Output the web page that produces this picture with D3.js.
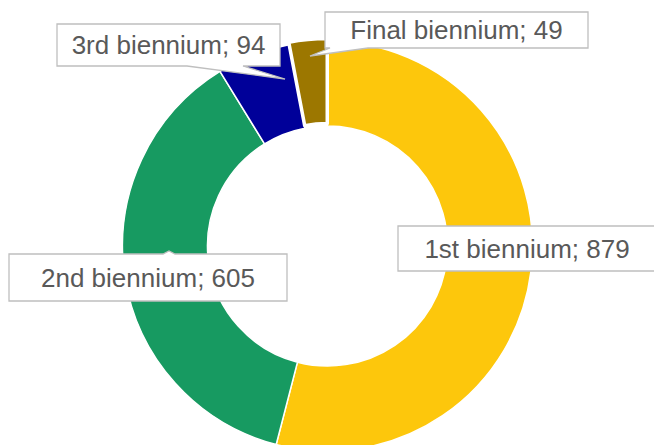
<!DOCTYPE html>
<html>
<head>
<meta charset="utf-8">
<script src="https://cdn.jsdelivr.net/npm/d3@7"></script>
<style>
  html, body { margin: 0; padding: 0; background: #fff; }
  svg { display: block; }
</style>
</head>
<body>
<svg id="chart" width="654" height="445"></svg>
<script>
// ---- data ----
const categories = ["1st biennium", "2nd biennium", "3rd biennium", "Final biennium"];
const values = [879, 605, 94, 49];
const colors = ["#FDC70C", "#179A61", "#000099", "#9C7700"];
const exploded = [false, false, false, true];

// ---- layout ----
const W = 654, H = 445;
const cx = 327.5, cy = 246;
const outerR = 205, innerR = 120;

// label boxes: offsets relative to chart centre, plus pointer spec
const labelLayout = [
  { dx: 70.5,  dy: -20, w: 258, h: 45, ptr: null },
  { dx: -318.5, dy: 8,  w: 278, h: 47, ptr: { side: "top", a: 163, b: 175, tip: [169, 251] } },
  { dx: -270.5, dy: -222, w: 223, h: 42, ptr: { side: "bottom", a: 187, b: 243, tip: [285, 79] } },
  { dx: -2.5,  dy: -234, w: 263, h: 36, ptr: { side: "bottom", a: 330, b: 368, tip: [310, 56] } }
];

const svg = d3.select("#chart");
const g = svg.append("g").attr("transform", `translate(${cx},${cy})`);

const pie = d3.pie().sort(null).value(d => d.value).startAngle(0).endAngle(2 * Math.PI);
const data = categories.map((c, i) => ({ name: c, value: values[i], color: colors[i], exploded: exploded[i] }));
const arcs = pie(data);
const arc = d3.arc().innerRadius(innerR).outerRadius(outerR);

g.selectAll("path.slice")
  .data(arcs)
  .enter().append("path")
  .attr("class", "slice")
  .attr("d", arc)
  .attr("fill", d => d.data.color)
  .attr("stroke", "#fff")
  .attr("stroke-width", d => d.data.exploded ? 3.5 : 1.5)
  .attr("stroke-linejoin", "round")
  .attr("transform", d => {
    if (!d.data.exploded) return null;
    const mid = (d.startAngle + d.endAngle) / 2;
    const off = 2.5;
    return `translate(${off * Math.sin(mid)},${-off * Math.cos(mid)})`;
  });

// ---- labels (callout boxes) ----
const lg = svg.append("g");
arcs.forEach((d, i) => {
  const L = labelLayout[i];
  const x0 = cx + L.dx, y0 = cy + L.dy, x1 = x0 + L.w, y1 = y0 + L.h;
  let p;
  if (L.ptr && L.ptr.side === "bottom") {
    p = `M${x0},${y0}H${x1}V${y1}H${L.ptr.b}L${L.ptr.tip[0]},${L.ptr.tip[1]}L${L.ptr.a},${y1}H${x0}Z`;
  } else if (L.ptr && L.ptr.side === "top") {
    p = `M${x0},${y0}H${L.ptr.a}L${L.ptr.tip[0]},${L.ptr.tip[1]}L${L.ptr.b},${y0}H${x1}V${y1}H${x0}Z`;
  } else {
    p = `M${x0},${y0}H${x1}V${y1}H${x0}Z`;
  }
  lg.append("path")
    .attr("d", p)
    .attr("fill", "#fff")
    .attr("stroke", "#BFBFBF")
    .attr("stroke-width", 1.3)
    .attr("stroke-linejoin", "miter");
  lg.append("text")
    .attr("x", (x0 + x1) / 2)
    .attr("y", (y0 + y1) / 2)
    .attr("dy", "0.36em")
    .attr("text-anchor", "middle")
    .attr("font-family", "Liberation Sans, Arial, sans-serif")
    .attr("font-size", 26)
    .attr("fill", "#595959")
    .text(`${d.data.name}; ${d.data.value}`);
});
</script>
</body>
</html>
